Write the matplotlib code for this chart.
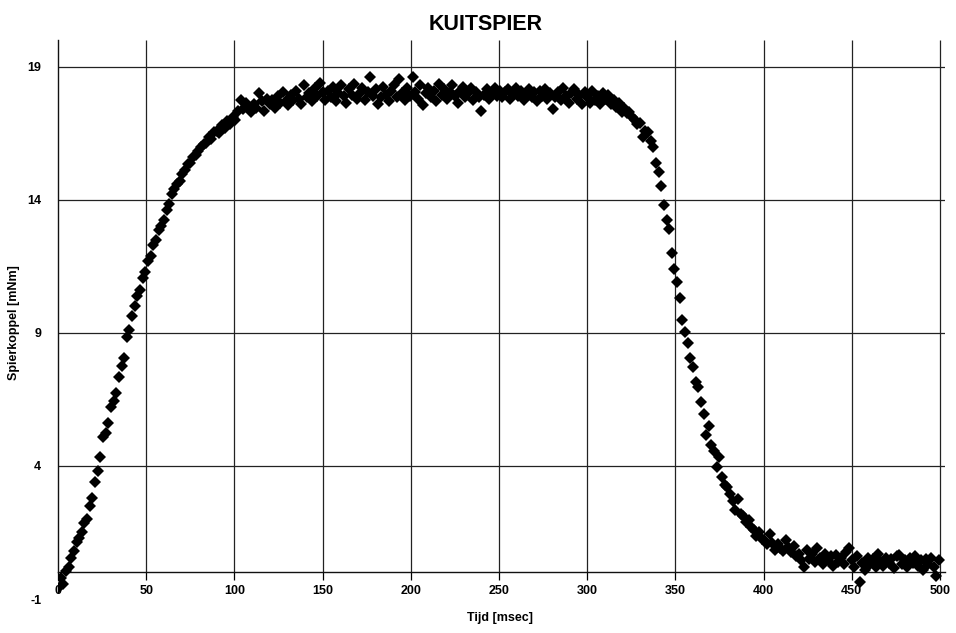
import numpy as np
import matplotlib
matplotlib.use("Agg")
from matplotlib import pyplot as plt

plt.rcParams['font.family'] = ['Liberation Sans', 'DejaVu Sans']
plt.rcParams['axes.unicode_minus'] = False

# Sample interval of the recording (msec)
dt = 1.5

# Muscle torque (mNm), one value per sample
torque = [
    # onset / rise
    -0.6, -0.2, -0.45, 0.05, 0.2, 0.55, 0.8, 1.15, 1.3, 1.5,
    1.85, 2.0, 2.5, 2.8, 3.4, 3.8, 4.35, 5.1, 5.25, 5.6,
    6.2, 6.45, 6.75, 7.35, 7.75, 8.05, 8.85, 9.1, 9.65, 10.0,
    10.4, 10.6, 11.05, 11.3, 11.7, 11.9, 12.3, 12.5, 12.85, 13.0,
    13.25, 13.6, 13.85, 14.2, 14.4, 14.6, 14.7, 14.95, 15.1, 15.35,
    15.4, 15.6, 15.7, 15.85, 16.0, 16.1, 16.15, 16.35, 16.3, 16.55,
    16.6, 16.5, 16.8, 16.7, 16.95, 16.85, 17.1, 17.0, 17.35, 17.75,
    17.4, 17.65, 17.5, 17.3, 17.6, 17.45, 18.0, 17.7, 17.35, 17.8,
    17.6, 17.75, 17.45, 17.9, 17.65, 18.05, 17.7, 17.55, 17.95, 17.75,
    18.1, 17.8, 17.6, 18.3, 17.85, 18.0, 17.7, 18.2, 17.9, 18.4,
    18.05, 17.75,
    # plateau
    18.1, 17.85, 18.25, 17.7, 18.0, 18.3, 17.9, 17.65, 18.15, 17.95,
    18.35, 17.8, 18.0, 18.2, 17.75, 18.05, 18.6, 17.9, 18.15, 17.6,
    17.85, 18.25, 17.95, 17.7, 18.1, 18.3, 17.85, 18.55, 18.0, 17.75,
    18.2, 17.9, 18.6, 18.05, 17.8, 18.3, 17.55, 18.0, 18.2, 17.85,
    18.1, 17.7, 18.35, 17.95, 18.15, 17.8, 18.05, 18.3, 17.9, 17.65,
    18.1, 18.25, 17.85, 18.0, 18.2, 17.75, 18.05, 17.85, 17.35, 17.95,
    18.15, 17.8, 18.0, 18.2, 17.9, 18.1, 17.85, 18.05, 18.15, 17.8,
    17.95, 18.2, 17.9, 18.1, 17.75, 18.0, 18.15, 17.85, 18.05, 17.7,
    18.1, 17.9, 18.15, 17.8, 18.0, 17.4, 17.85, 18.05, 17.75, 18.2,
    17.9, 17.65, 18.0, 18.15, 17.8, 17.95, 17.6, 18.05, 17.85, 17.65,
    18.1, 17.75, 17.9, 17.6, 18.0, 17.8, 17.95, 17.6, 17.75, 17.5,
    17.65,
    # relaxation
    17.3, 17.45, 17.25, 17.3, 17.1, 17.0, 16.85, 16.9, 16.35, 16.6,
    16.55, 16.2, 16.0, 15.4, 15.05, 14.5, 13.8, 13.25, 12.9, 12.0,
    11.4, 10.9, 10.3, 9.5, 9.05, 8.6, 8.05, 7.7, 7.15, 6.95,
    6.4, 5.95, 5.15, 5.5, 4.8, 4.55, 3.95, 4.35, 3.6, 3.3,
    3.2, 2.95, 2.7, 2.35, 2.75, 2.2, 2.1, 1.9, 1.95, 1.7,
    1.6, 1.35, 1.5, 1.25, 1.2, 1.05, 1.45, 1.1, 0.85, 1.05,
    0.9, 0.8, 1.2, 0.95, 0.75, 1.0, 0.6, 0.7, 0.45, 0.2,
    # rest
    0.85, 0.5, 0.7, 0.4, 0.9, 0.55, 0.3, 0.7, 0.45, 0.6,
    0.25, 0.65, 0.4, 0.55, 0.3, 0.75, 0.9, 0.45, 0.2, 0.6,
    -0.35, 0.35, 0.1, 0.55, 0.3, 0.5, 0.2, 0.7, 0.4, 0.25,
    0.55, 0.35, 0.5, 0.15, 0.6, 0.65, 0.3, 0.45, 0.2, 0.55,
    0.35, 0.6, 0.25, 0.45, 0.1, 0.5, 0.3, 0.55, 0.2, -0.15,
    0.45,
]
time = np.arange(len(torque)) * dt

xticks = [0, 50, 100, 150, 200, 250, 300, 350, 400, 450, 500]
yticks = [-1, 4, 9, 14, 19]

fig = plt.figure(figsize=(9.56, 6.33), dpi=100)
ax = fig.add_axes([0.0607, 0.0537, 0.928, 0.883])
ax.set_xlim(0, 503)
ax.set_ylim(-1, 20)

# grid: vertical lines stop at the zero line, horizontal ones skip -1
ax.vlines(xticks[1:], 0, 20, color='#222222', lw=0.9, zorder=1)
ax.hlines(yticks[1:], 0, 503, color='#222222', lw=0.9, zorder=1)

ax.plot(time, torque, linestyle='none', marker='D', markersize=6,
        color='black', markeredgewidth=0, zorder=3)

for side in ['top', 'right']:
    ax.spines[side].set_visible(False)
ax.spines['bottom'].set_position(('data', 0))
ax.spines['left'].set_bounds(0, 20)
for side in ['bottom', 'left']:
    ax.spines[side].set_color('#111111')
    ax.spines[side].set_linewidth(1.0)

ax.set_xticks(xticks)
ax.set_yticks(yticks)
ax.tick_params(axis='x', direction='out', length=6, pad=3, labelsize=9, width=0.9)
ax.tick_params(axis='y', direction='out', length=0, pad=12, labelsize=9)
for lbl in ax.get_xticklabels() + ax.get_yticklabels():
    lbl.set_fontweight('bold')

fig.text(0.508, 0.962, 'KUITSPIER', ha='center', va='center',
         fontsize=15.5, fontweight='bold')
fig.text(0.523, 0.023, 'Tijd [msec]', ha='center', va='center',
         fontsize=9, fontweight='bold')
fig.text(0.015, 0.49, 'Spierkoppel [mNm]', ha='center', va='center',
         rotation=90, fontsize=9, fontweight='bold')

fig.savefig('out.png', dpi=100)
